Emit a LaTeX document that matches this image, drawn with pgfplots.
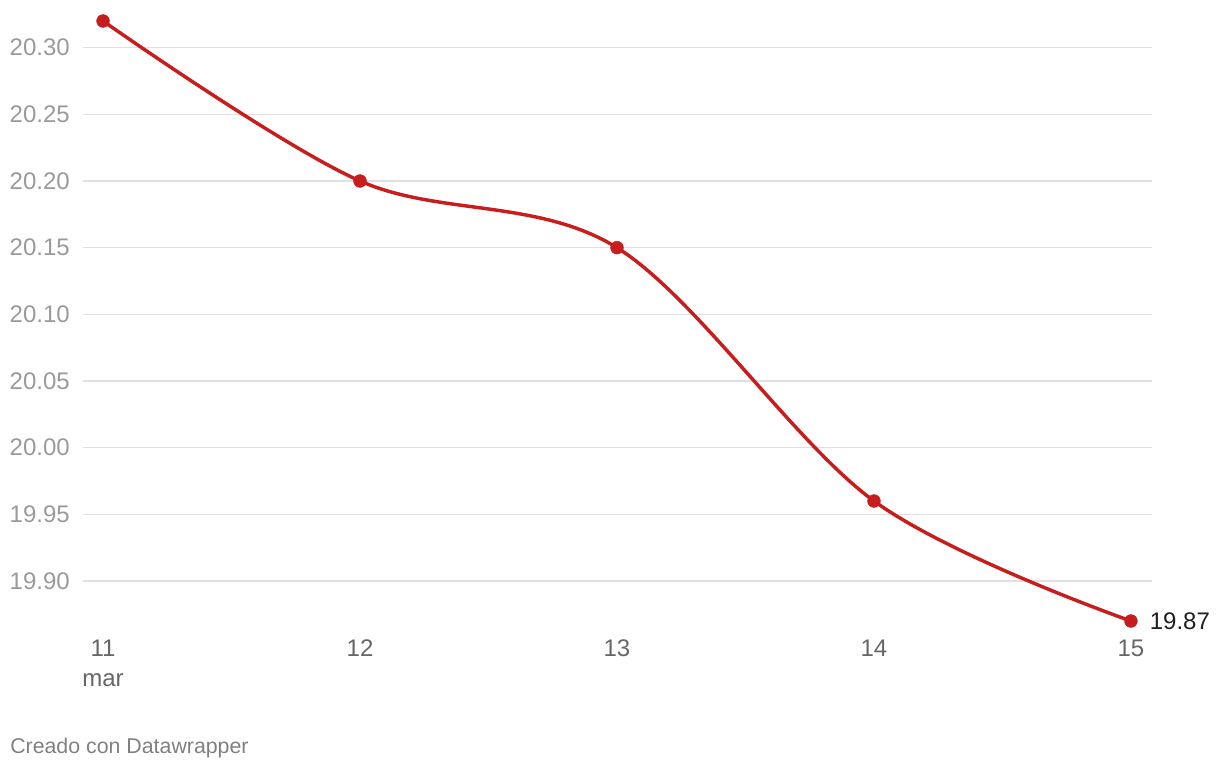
\documentclass[border=0pt]{standalone}
\usepackage{pgfplots}
\pgfplotsset{compat=1.18}
\usepackage{fontspec}
\setmainfont{Liberation Sans}
\definecolor{dwred}{HTML}{C71E1D}
\definecolor{ylab}{HTML}{9A9A9A}
\definecolor{xlab}{HTML}{666666}
\definecolor{gridc}{HTML}{E0E0E0}
\definecolor{credit}{HTML}{808080}
\begin{document}
\begin{tikzpicture}
\path[use as bounding box] (0pt,0pt) rectangle (915pt,576pt);
\begin{axis}[
  at={(62.25pt,110.25pt)}, anchor=south west,
  scale only axis, width=801.75pt, height=450pt,
  xmin=10.922, xmax=15.082, ymin=19.87, ymax=20.32,
  clip=false,
  axis line style={draw=none},
  major tick length=0pt,
  ymajorgrids, grid style={gridc, line width=1pt},
  ytick={19.90,19.95,20.00,20.05,20.10,20.15,20.20,20.25,20.30},
  xtick={11,12,13,14,15},
  xticklabels={{11\\mar},12,13,14,15},
  /pgf/number format/assume math mode=true,
  yticklabel={\pgfmathprintnumber[fixed,fixed zerofill,precision=2]{\tick}},
  yticklabel style={font=\fontsize{18}{21}\selectfont, text=ylab, inner sep=0pt, anchor=east, xshift=-9.75pt},
  xticklabel style={font=\fontsize{18}{22.5}\selectfont, text=xlab, inner sep=0pt, anchor=north, align=center, yshift=-14pt},
]
\addplot[dwred, line width=2.6pt, smooth, tension=0.55, mark=*, mark size=4.8pt, mark options={fill=dwred, draw=dwred, line width=0.4pt, solid}] coordinates {
  (11,20.32) (12,20.20) (13,20.15) (14,19.96) (15,19.87)
};
\node[anchor=west, inner sep=0pt, xshift=14pt, font=\fontsize{18}{21}\selectfont, text={black!88}] at (axis cs:15,19.87) {19.87};
\end{axis}
\node[anchor=base west, inner sep=0pt, font=\fontsize{16}{19}\selectfont, text=credit] at (7.5pt,11.25pt) {Creado con Datawrapper};
\end{tikzpicture}
\end{document}
